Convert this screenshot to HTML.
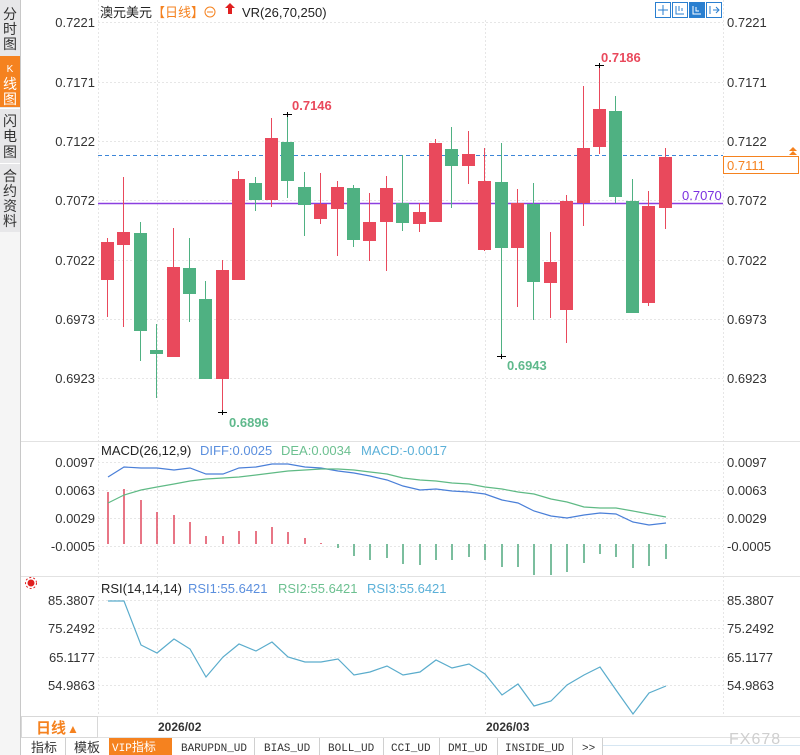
<!DOCTYPE html>
<html><head><meta charset="utf-8">
<style>
html,body{margin:0;padding:0;background:#fff;width:800px;height:755px;overflow:hidden}
svg{display:block}
text{font-family:"Liberation Sans","Noto Sans CJK SC",sans-serif}
.ax{font-size:13px;fill:#333}
.tab{font-family:"Liberation Mono","Noto Sans CJK SC",monospace;font-size:11px;fill:#333}
</style></head><body>
<svg width="800" height="755" viewBox="0 0 800 755" xmlns="http://www.w3.org/2000/svg">
<rect x="0" y="0" width="800" height="755" fill="#fff"/>
<!-- sidebar -->
<rect x="0" y="0" width="20" height="755" fill="#f5f5f5"/>
<rect x="0" y="0" width="20" height="232" fill="#e7e7e9"/>
<rect x="0" y="56" width="20" height="51" fill="#f5821f"/>
<line x1="0" y1="108.5" x2="20" y2="108.5" stroke="#fff"/>
<line x1="0" y1="163.5" x2="20" y2="163.5" stroke="#fff"/>
<line x1="20.5" y1="0" x2="20.5" y2="755" stroke="#c8c8c8"/>
<g font-size="14" fill="#333" text-anchor="middle" style="font-family:'Noto Sans CJK SC',sans-serif">
<text x="10" y="19">分</text><text x="10" y="34">时</text><text x="10" y="49">图</text>
<text x="10" y="72" fill="#fff" font-size="10">K</text><text x="10" y="89" fill="#fff">线</text><text x="10" y="104" fill="#fff">图</text>
<text x="10" y="126">闪</text><text x="10" y="141">电</text><text x="10" y="157">图</text>
<text x="10" y="181">合</text><text x="10" y="196">约</text><text x="10" y="211">资</text><text x="10" y="226">料</text>
</g>

<!-- gridlines -->
<g stroke="#e6e6e6" stroke-dasharray="2,2" stroke-width="1">
<line x1="98" y1="22.5" x2="723" y2="22.5"/>
<line x1="98" y1="82.5" x2="723" y2="82.5"/>
<line x1="98" y1="141.5" x2="723" y2="141.5"/>
<line x1="98" y1="200.5" x2="723" y2="200.5"/>
<line x1="98" y1="260.5" x2="723" y2="260.5"/>
<line x1="98" y1="319.5" x2="723" y2="319.5"/>
<line x1="98" y1="378.5" x2="723" y2="378.5"/>
<line x1="98" y1="462.5" x2="723" y2="462.5"/>
<line x1="98" y1="490.5" x2="723" y2="490.5"/>
<line x1="98" y1="518.5" x2="723" y2="518.5"/>
<line x1="98" y1="546.5" x2="723" y2="546.5"/>
<line x1="98" y1="600.5" x2="723" y2="600.5"/>
<line x1="98" y1="628.5" x2="723" y2="628.5"/>
<line x1="98" y1="657.5" x2="723" y2="657.5"/>
<line x1="98" y1="685.5" x2="723" y2="685.5"/>
<line x1="98.5" y1="0" x2="98.5" y2="716"/>
<line x1="157.5" y1="20" x2="157.5" y2="716"/>
<line x1="485.5" y1="20" x2="485.5" y2="716"/>
<line x1="723.5" y1="0" x2="723.5" y2="716"/>
</g>
<!-- panel separators -->
<g stroke="#e2e2e2" stroke-width="1">
<line x1="21" y1="441.5" x2="800" y2="441.5"/>
<line x1="21" y1="576.5" x2="800" y2="576.5"/>
<line x1="21" y1="716.5" x2="800" y2="716.5"/>
<line x1="21" y1="737.5" x2="800" y2="737.5"/>
</g>
<line x1="602" y1="745.5" x2="800" y2="745.5" stroke="#d6e6f2"/>

<!-- header -->
<text x="100" y="17" font-size="13" fill="#222">澳元美元</text>
<text x="152" y="17" font-size="13" fill="#f5821f">【日线】</text>
<circle cx="210" cy="12" r="5" fill="none" stroke="#f5821f" stroke-width="1"/>
<line x1="207" y1="12" x2="213" y2="12" stroke="#f5821f"/>
<path d="M230 3 L235 8 L232 8 L232 14 L228 14 L228 8 L225 8 Z" fill="#e02020"/>
<text x="242" y="17" font-size="13" fill="#222">VR(26,70,250)</text>

<!-- top-right icons -->
<g stroke="#2a7fd0" fill="none" stroke-width="1">
<rect x="655.5" y="2.5" width="15" height="15"/>
<rect x="672.5" y="2.5" width="15" height="15"/>
<rect x="689.5" y="2.5" width="15" height="15" fill="#2a7fd0"/>
<rect x="706.5" y="2.5" width="15" height="15"/>
<path d="M663 5 V15 M658 10 H668"/>
<path d="M676 6 V14 H684 M679 6 V11 M682 8 V11"/>
<path d="M710 6 V14 M713 10 H719 M716 7 L719 10 L716 13"/>
</g>
<path d="M693 6 V14 H701 M696 7 V11 L699 11" stroke="#fff" fill="none"/>

<!-- left axis labels -->
<g class="ax" text-anchor="end">
<text x="95" y="27">0.7221</text>
<text x="95" y="87">0.7171</text>
<text x="95" y="146">0.7122</text>
<text x="95" y="205">0.7072</text>
<text x="95" y="265">0.7022</text>
<text x="95" y="324">0.6973</text>
<text x="95" y="383">0.6923</text>
<text x="95" y="467">0.0097</text>
<text x="95" y="495">0.0063</text>
<text x="95" y="523">0.0029</text>
<text x="95" y="551">-0.0005</text>
<text x="95" y="605">85.3807</text>
<text x="95" y="633">75.2492</text>
<text x="95" y="662">65.1177</text>
<text x="95" y="690">54.9863</text>
</g>
<!-- right axis labels -->
<g class="ax">
<text x="727" y="27">0.7221</text>
<text x="727" y="87">0.7171</text>
<text x="727" y="146">0.7122</text>
<text x="727" y="205">0.7072</text>
<text x="727" y="265">0.7022</text>
<text x="727" y="324">0.6973</text>
<text x="727" y="383">0.6923</text>
<text x="727" y="467">0.0097</text>
<text x="727" y="495">0.0063</text>
<text x="727" y="523">0.0029</text>
<text x="727" y="551">-0.0005</text>
<text x="727" y="605">85.3807</text>
<text x="727" y="633">75.2492</text>
<text x="727" y="662">65.1177</text>
<text x="727" y="690">54.9863</text>
</g>

<!-- reference lines -->
<line x1="98" y1="155.5" x2="723" y2="155.5" stroke="#3d86d8" stroke-dasharray="4,3"/>
<line x1="98" y1="203.5" x2="723" y2="203.5" stroke="#8b3fe0" stroke-width="1.5"/>
<text x="682" y="200" font-size="13" fill="#7b2fe0">0.7070</text>
<rect x="723.5" y="156.5" width="75" height="17" fill="#fff" stroke="#f5821f"/>
<text x="727" y="170" font-size="13" fill="#f5821f">0.7111</text>
<path d="M789 151 L793 147 L797 151 Z M789 155 L793 151 L797 155 Z" fill="#f5821f"/>

<!-- candles -->
<g id="candles">
<g fill="#e9495c">
<rect x="107" y="238" width="1" height="79"/><rect x="101" y="242" width="13" height="38"/>
<rect x="123" y="177" width="1" height="150"/><rect x="117" y="232" width="13" height="13"/>
<rect x="173" y="228" width="1" height="129"/><rect x="167" y="267" width="13" height="90"/>
<rect x="222" y="260" width="1" height="153"/><rect x="216" y="270" width="13" height="109"/>
<rect x="238" y="171" width="1" height="109"/><rect x="232" y="179" width="13" height="101"/>
<rect x="271" y="118" width="1" height="89"/><rect x="265" y="138" width="13" height="62"/>
<rect x="320" y="173" width="1" height="51"/><rect x="314" y="204" width="13" height="15"/>
<rect x="337" y="181" width="1" height="75"/><rect x="331" y="187" width="13" height="22"/>
<rect x="369" y="193" width="1" height="68"/><rect x="363" y="222" width="13" height="19"/>
<rect x="386" y="176" width="1" height="95"/><rect x="380" y="188" width="13" height="34"/>
<rect x="419" y="203" width="1" height="29"/><rect x="413" y="212" width="13" height="12"/>
<rect x="435" y="139" width="1" height="83"/><rect x="429" y="143" width="13" height="79"/>
<rect x="468" y="131" width="1" height="53"/><rect x="462" y="154" width="13" height="12"/>
<rect x="484" y="148" width="1" height="103"/><rect x="478" y="181" width="13" height="69"/>
<rect x="517" y="189" width="1" height="118"/><rect x="511" y="203" width="13" height="45"/>
<rect x="550" y="232" width="1" height="86"/><rect x="544" y="262" width="13" height="21"/>
<rect x="566" y="195" width="1" height="148"/><rect x="560" y="201" width="13" height="109"/>
<rect x="583" y="86" width="1" height="140"/><rect x="577" y="148" width="13" height="55"/>
<rect x="599" y="65" width="1" height="89"/><rect x="593" y="109" width="13" height="38"/>
<rect x="648" y="191" width="1" height="115"/><rect x="642" y="206" width="13" height="97"/>
<rect x="665" y="148" width="1" height="81"/><rect x="659" y="157" width="13" height="51"/>
</g>
<g fill="#4fb182">
<rect x="140" y="222" width="1" height="139"/><rect x="134" y="233" width="13" height="98"/>
<rect x="156" y="324" width="1" height="74"/><rect x="150" y="350" width="13" height="4"/>
<rect x="189" y="238" width="1" height="84"/><rect x="183" y="268" width="13" height="26"/>
<rect x="205" y="281" width="1" height="98"/><rect x="199" y="299" width="13" height="80"/>
<rect x="255" y="177" width="1" height="34"/><rect x="249" y="183" width="13" height="17"/>
<rect x="287" y="114" width="1" height="84"/><rect x="281" y="142" width="13" height="39"/>
<rect x="304" y="172" width="1" height="64"/><rect x="298" y="187" width="13" height="18"/>
<rect x="353" y="185" width="1" height="62"/><rect x="347" y="188" width="13" height="52"/>
<rect x="402" y="155" width="1" height="76"/><rect x="396" y="203" width="13" height="20"/>
<rect x="451" y="127" width="1" height="81"/><rect x="445" y="149" width="13" height="17"/>
<rect x="501" y="143" width="1" height="214"/><rect x="495" y="182" width="13" height="66"/>
<rect x="533" y="183" width="1" height="137"/><rect x="527" y="204" width="13" height="78"/>
<rect x="615" y="96" width="1" height="107"/><rect x="609" y="111" width="13" height="86"/>
<rect x="632" y="179" width="1" height="134"/><rect x="626" y="201" width="13" height="112"/>
</g>
</g>

<!-- high/low markers -->
<g stroke="#000" stroke-width="1">
<line x1="283" y1="114.5" x2="292" y2="114.5"/><line x1="287.5" y1="112" x2="287.5" y2="117"/>
<line x1="595" y1="65.5" x2="604" y2="65.5"/><line x1="599.5" y1="63" x2="599.5" y2="68"/>
<line x1="218" y1="412.5" x2="227" y2="412.5"/><line x1="222.5" y1="410" x2="222.5" y2="415"/>
<line x1="497" y1="356.5" x2="506" y2="356.5"/><line x1="501.5" y1="354" x2="501.5" y2="359"/>
</g>
<g font-size="13" font-weight="bold">
<text x="292" y="110" fill="#e9495c">0.7146</text>
<text x="601" y="62" fill="#e9495c">0.7186</text>
<text x="229" y="427" fill="#5fb98c">0.6896</text>
<text x="507" y="370" fill="#5fb98c">0.6943</text>
</g>

<!-- MACD -->
<text x="101" y="455" font-size="13" fill="#222">MACD(26,12,9)</text>
<text x="200" y="455" font-size="13" fill="#5b8fde">DIFF:0.0025</text>
<text x="281" y="455" font-size="13" fill="#6cc090">DEA:0.0034</text>
<text x="361" y="455" font-size="13" fill="#5bb0d8">MACD:-0.0017</text>
<g stroke="#e25468" stroke-width="1.6">
<line x1="108" y1="544" x2="108" y2="492"/><line x1="124" y1="544" x2="124" y2="489"/>
<line x1="141" y1="544" x2="141" y2="500"/><line x1="157" y1="544" x2="157" y2="512"/>
<line x1="174" y1="544" x2="174" y2="515"/><line x1="190" y1="544" x2="190" y2="522"/>
<line x1="206" y1="544" x2="206" y2="536"/><line x1="223" y1="544" x2="223" y2="536"/>
<line x1="239" y1="544" x2="239" y2="531"/><line x1="256" y1="544" x2="256" y2="531"/>
<line x1="272" y1="544" x2="272" y2="527"/><line x1="288" y1="544" x2="288" y2="532"/>
<line x1="305" y1="544" x2="305" y2="538"/><line x1="321" y1="544" x2="321" y2="543"/>
</g>
<g stroke="#5aae85" stroke-width="1.6">
<line x1="338" y1="544" x2="338" y2="548"/><line x1="354" y1="544" x2="354" y2="556"/>
<line x1="370" y1="544" x2="370" y2="560"/><line x1="387" y1="544" x2="387" y2="558"/>
<line x1="403" y1="544" x2="403" y2="564"/><line x1="420" y1="544" x2="420" y2="565"/>
<line x1="436" y1="544" x2="436" y2="560"/><line x1="452" y1="544" x2="452" y2="560"/>
<line x1="469" y1="544" x2="469" y2="557"/><line x1="485" y1="544" x2="485" y2="560"/>
<line x1="502" y1="544" x2="502" y2="567"/><line x1="518" y1="544" x2="518" y2="567"/>
<line x1="534" y1="544" x2="534" y2="575"/><line x1="551" y1="544" x2="551" y2="575"/>
<line x1="567" y1="544" x2="567" y2="572"/><line x1="584" y1="544" x2="584" y2="563"/>
<line x1="600" y1="544" x2="600" y2="554"/><line x1="616" y1="544" x2="616" y2="557"/>
<line x1="633" y1="544" x2="633" y2="568"/><line x1="649" y1="544" x2="649" y2="566"/>
<line x1="666" y1="544" x2="666" y2="559"/>
</g>
<polyline fill="none" stroke="#4a7fd8" stroke-width="1.2" points="108,477 124,467 141,468 157,468 174,470 190,468 206,474 223,474 239,468 256,467 272,464 288,464 305,467 321,468 338,471 354,473 370,476 387,480 403,486 420,490 436,489 452,491 469,492 485,494 502,500 518,503 534,511 551,516 567,518 584,515 600,513 616,514 633,522 649,525 666,523"/>
<polyline fill="none" stroke="#5fba85" stroke-width="1.2" points="108,503 124,495 141,490 157,487 174,484 190,481 206,479 223,478 239,477 256,475 272,473 288,471 305,470 321,469 338,469 354,470 370,472 387,474 403,478 420,480 436,481 452,483 469,484 485,487 502,489 518,492 534,494 551,499 567,502 584,507 600,508 616,508 633,511 649,514 666,517"/>

<!-- RSI -->
<g transform="translate(31,583)">
<circle r="3.5" fill="#e02020"/><circle r="5.5" fill="none" stroke="#e02020" stroke-width="1" stroke-dasharray="2,2"/>
</g>
<text x="101" y="593" font-size="13" fill="#222">RSI(14,14,14)</text>
<text x="188" y="593" font-size="13" fill="#5b8fde">RSI1:55.6421</text>
<text x="278" y="593" font-size="13" fill="#6cc090">RSI2:55.6421</text>
<text x="367" y="593" font-size="13" fill="#5bb0d8">RSI3:55.6421</text>
<polyline fill="none" stroke="#5aaccc" stroke-width="1.2" points="108,601 124,601 141,645 157,653 174,639 190,649 206,677 223,657 239,644 256,651 272,642 288,657 305,662 321,662 338,659 354,675 370,672 387,666 403,675 420,672 436,660 452,668 469,664 485,674 502,695 518,684 534,706 551,701 567,685 584,675 600,667 616,690 633,714 649,693 666,686"/>

<!-- date row -->
<rect x="21.5" y="716.5" width="76" height="21" fill="#fff" stroke="#d8d8d8"/>
<text x="36" y="733" font-size="15" font-weight="bold" fill="#f5821f" style="font-family:'Noto Sans CJK SC',sans-serif">日线</text>
<text x="67" y="733" font-size="12" fill="#f5821f">▲</text>
<text x="158" y="731" font-size="12" font-weight="bold" fill="#333">2026/02</text>
<text x="486" y="731" font-size="12" font-weight="bold" fill="#333">2026/03</text>
<text x="729" y="744" font-size="16" fill="#cfcfcf" letter-spacing="1">FX678</text>

<!-- tabs -->
<g stroke="#d0d0d0">
<line x1="65.5" y1="738" x2="65.5" y2="755"/>
<line x1="254.5" y1="738" x2="254.5" y2="755"/>
<line x1="319.5" y1="738" x2="319.5" y2="755"/>
<line x1="383.5" y1="738" x2="383.5" y2="755"/>
<line x1="439.5" y1="738" x2="439.5" y2="755"/>
<line x1="497.5" y1="738" x2="497.5" y2="755"/>
<line x1="572.5" y1="738" x2="572.5" y2="755"/>
<line x1="602.5" y1="738" x2="602.5" y2="755"/>
</g>
<rect x="109" y="738" width="63" height="17" fill="#f5821f"/>
<g font-size="13" fill="#333" style="font-family:'Noto Sans CJK SC',sans-serif">
<text x="31" y="752">指标</text>
<text x="74" y="752">模板</text>
</g>
<text x="112" y="751" class="tab" style="fill:#fff">VIP<tspan style="font-family:'Noto Sans CJK SC',sans-serif" font-size="12">指标</tspan></text>
<text x="181" y="751" class="tab">BARUPDN_UD</text>
<text x="264" y="751" class="tab">BIAS_UD</text>
<text x="328" y="751" class="tab">BOLL_UD</text>
<text x="391" y="751" class="tab">CCI_UD</text>
<text x="448" y="751" class="tab">DMI_UD</text>
<text x="505" y="751" class="tab">INSIDE_UD</text>
<text x="582" y="751" class="tab">&gt;&gt;</text>
</svg>
</body></html>
